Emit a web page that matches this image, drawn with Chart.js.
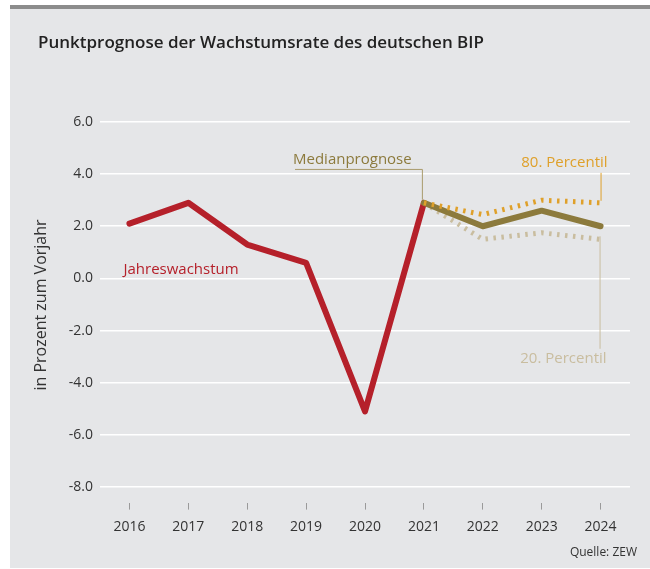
<!DOCTYPE html>
<html>
<head>
<meta charset="utf-8">
<script src="https://cdn.jsdelivr.net/npm/chart.js@4"></script>
<style>
  html, body { margin: 0; padding: 0; background: #fff; }
  #wrap { position: relative; width: 650px; height: 569px; }
  canvas { position: absolute; left: 0; top: 0; }
</style>
</head>
<body>
<div id="wrap"><canvas id="bipChart" width="650" height="569"></canvas></div>
<script>
const years = ['2016', '2017', '2018', '2019', '2020', '2021', '2022', '2023', '2024'];
const jahreswachstum = [2.1, 2.9, 1.3, 0.6, -5.1, 2.9, null, null, null];
const medianprognose = [null, null, null, null, null, 2.9, 2.0, 2.6, 2.0];
const percentil80 = [null, null, null, null, null, 2.9, 2.45, 3.0, 2.9];
const percentil20 = [null, null, null, null, null, 2.9, 1.5, 1.75, 1.5];
const yTicks = [-8, -6, -4, -2, 0, 2, 4, 6];

const FONT = "'Open Sans', sans-serif";
const RED = '#b5202a';
const OLIVE = '#8c7a3c';
const ORANGE = '#dfa02a';
const TAN = '#c9bd9f';

// Hintergrund, Titel, Beschriftungen
const frame = {
    id: 'frame',
    beforeDraw(chart) {
        const c = chart.ctx;
        c.save();
        c.fillStyle = '#e5e6e8';
        c.fillRect(10, 9, 640, 559);
        c.fillStyle = '#8c8c8c';
        c.fillRect(10, 5, 640, 4);
        c.fillStyle = '#222';
        c.font = "600 17px " + FONT;
        c.textBaseline = 'middle';
        c.fillText('Punktprognose der Wachstumsrate des deutschen BIP', 38, 43);
        c.font = "12px " + FONT;
        c.textAlign = 'right';
        c.fillStyle = '#333';
        c.fillText('Quelle: ZEW', 637, 553);
        c.save();
        c.translate(41, 305);
        c.rotate(-Math.PI / 2);
        c.textAlign = 'center';
        c.font = "16px " + FONT;
        c.fillStyle = '#333';
        c.fillText('in Prozent zum Vorjahr', 0, 0);
        c.restore();
        c.restore();
    },
    afterDatasetsDraw(chart) {
        const c = chart.ctx;
        const x = chart.scales.x, y = chart.scales.y;
        c.save();
        c.font = "500 15px " + FONT;
        c.textBaseline = 'middle';

        c.fillStyle = RED;
        c.fillText('Jahreswachstum', x.getPixelForValue(0) - 6, y.getPixelForValue(0.35));

        // Medianprognose
        const x21 = x.getPixelForValue(5);
        const yLine = y.getPixelForValue(4.2);
        c.fillStyle = OLIVE;
        c.fillText('Medianprognose', 293, y.getPixelForValue(4.55));
        c.strokeStyle = '#a99b6c';
        c.lineWidth = 1;
        c.beginPath();
        c.moveTo(295, yLine + 0.5);
        c.lineTo(x21 - 1.5, yLine + 0.5);
        c.lineTo(x21 - 1.5, y.getPixelForValue(medianprognose[5]) - 3);
        c.stroke();

        // 80. Percentil
        const x24 = x.getPixelForValue(8);
        c.textAlign = 'right';
        c.fillStyle = ORANGE;
        c.fillText('80. Percentil', x24 + 7, y.getPixelForValue(4.45));
        c.strokeStyle = ORANGE;
        c.beginPath();
        c.moveTo(x24 + 0.5, y.getPixelForValue(4.05));
        c.lineTo(x24 + 0.5, y.getPixelForValue(percentil80[8]) - 2);
        c.stroke();

        // 20. Percentil
        c.fillStyle = TAN;
        c.fillText('20. Percentil', x24 + 6, y.getPixelForValue(-3.1));
        c.strokeStyle = TAN;
        c.beginPath();
        c.moveTo(x24 - 0.5, y.getPixelForValue(percentil20[8]) - 3);
        c.lineTo(x24 - 0.5, y.getPixelForValue(-2.7));
        c.stroke();
        c.restore();
    }
};

const ctx = document.getElementById('bipChart').getContext('2d');
const chart = new Chart(ctx, {
    type: 'line',
    data: {
        labels: years,
        datasets: [{
            label: '80. Percentil',
            data: percentil80,
            borderColor: ORANGE,
            borderWidth: 5,
            borderDash: [2.5, 5.5],
            borderCapStyle: 'butt',
            order: 0
        }, {
            label: 'Medianprognose',
            data: medianprognose,
            borderColor: OLIVE,
            borderWidth: 6,
            borderCapStyle: 'round',
            borderJoinStyle: 'round',
            order: 1
        }, {
            label: '20. Percentil',
            data: percentil20,
            borderColor: TAN,
            borderWidth: 5,
            borderDash: [2.5, 5.5],
            borderCapStyle: 'butt',
            order: 2
        }, {
            label: 'Jahreswachstum',
            data: jahreswachstum,
            borderColor: RED,
            borderWidth: 6,
            borderCapStyle: 'round',
            borderJoinStyle: 'round',
            order: 3
        }]
    },
    options: {
        responsive: false,
        animation: false,
        events: [],
        layout: { padding: { left: 0, right: 20, top: 122, bottom: 0 } },
        elements: { point: { radius: 0 }, line: { tension: 0 } },
        scales: {
            x: {
                offset: true,
                border: { display: false },
                grid: {
                    drawOnChartArea: false,
                    drawTicks: true,
                    tickLength: 7,
                    tickColor: '#9a9a9a',
                    offset: false
                },
                ticks: { color: '#333', padding: 9, font: { family: FONT, size: 14 } },
                afterFit(scale) { scale.height = 66.4; }
            },
            y: {
                min: -8.6,
                max: 6,
                border: { display: false },
                afterBuildTicks(scale) { scale.ticks = yTicks.map(v => ({ value: v })); },
                grid: { color: '#ffffff', lineWidth: 1.6, drawTicks: false },
                ticks: {
                    color: '#333',
                    padding: 7,
                    font: { family: FONT, size: 14 },
                    callback: v => v.toFixed(1)
                },
                afterFit(scale) { scale.width = 100; }
            }
        },
        plugins: {
            legend: { display: false },
            tooltip: { enabled: false }
        }
    },
    plugins: [frame]
});
</script>
</body>
</html>
